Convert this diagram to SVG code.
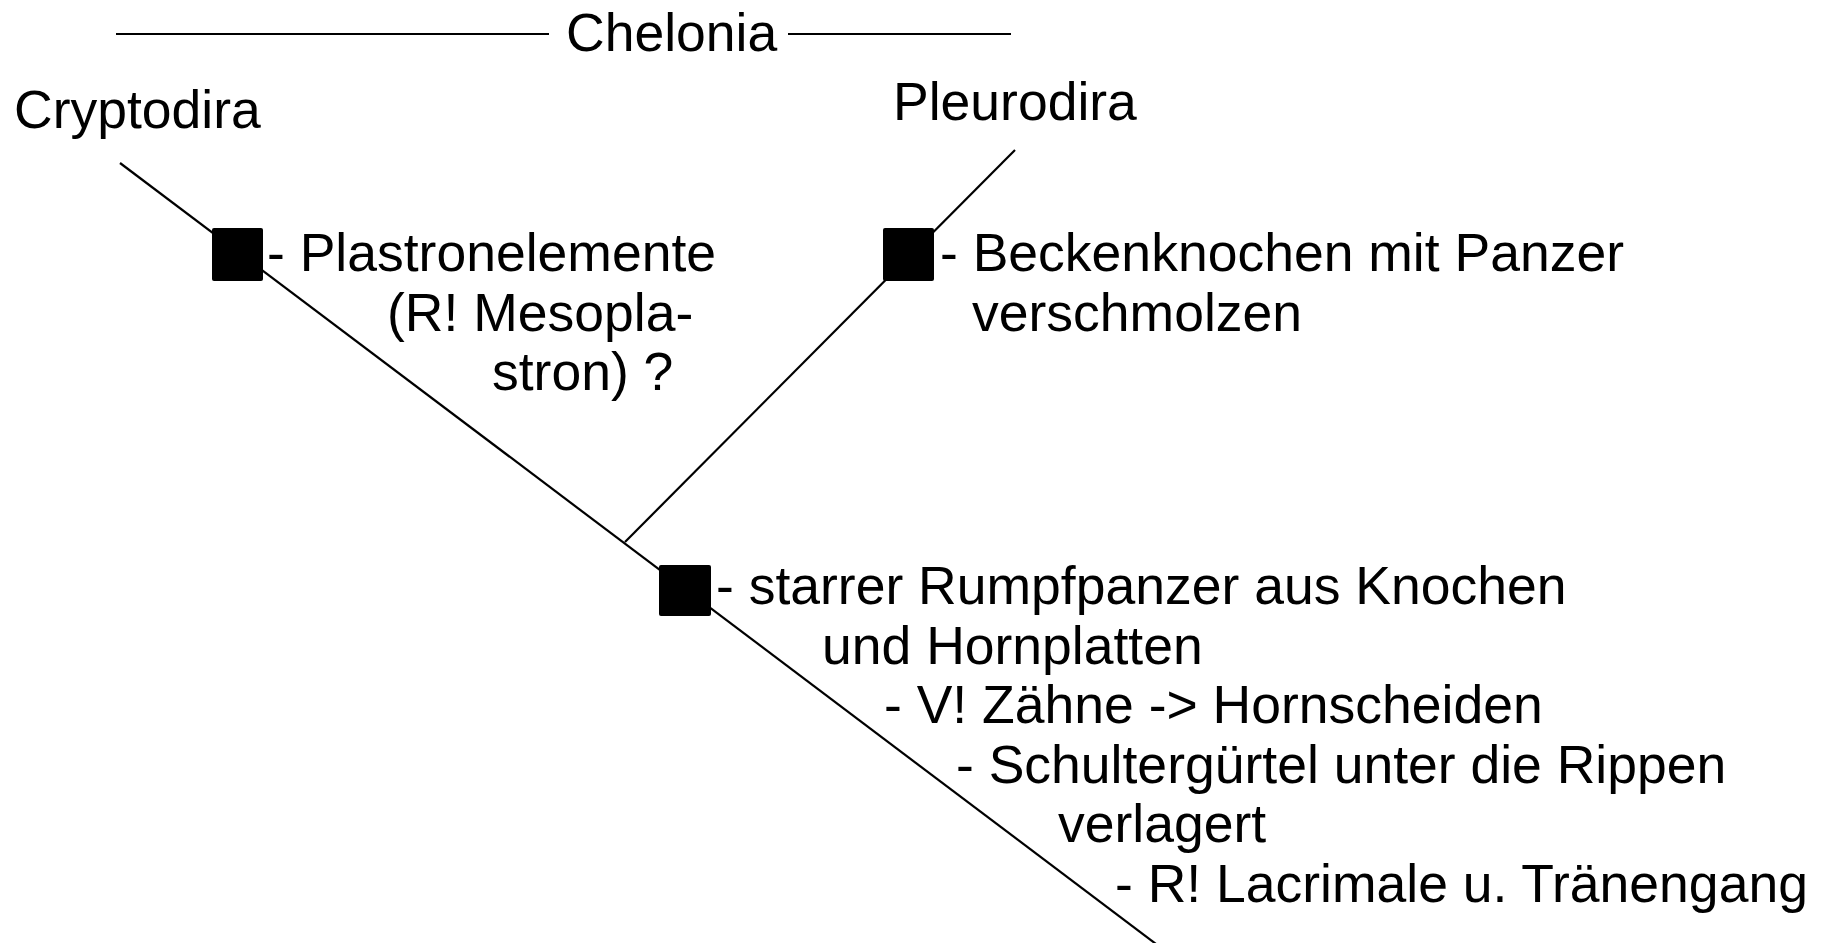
<svg xmlns="http://www.w3.org/2000/svg" width="1823" height="943" viewBox="0 0 1823 943">
  <style>
    text { font-family: "Liberation Sans", Arial, sans-serif; font-size: 53.5px; fill: #000; }
    .edge { stroke: #000; stroke-width: 2.2; fill: none; stroke-linecap: butt; }
    .mark { fill: #000; }
  </style>
  <rect width="1823" height="943" fill="#fff"/>

  <!-- clade bracket -->
  <g id="chelonia">
    <line class="edge" x1="116" y1="34" x2="549" y2="34"/>
    <text x="566" y="51">Chelonia</text>
    <line class="edge" x1="788" y1="34" x2="1011" y2="34"/>
  </g>

  <!-- branches -->
  <g id="connectors">
    <line class="edge" x1="120" y1="163" x2="1160" y2="947"/>
    <line class="edge" x1="1015" y1="150" x2="625" y2="542"/>
  </g>

  <g id="cryptodira">
    <text x="14" y="128">Cryptodira</text>
  </g>

  <g id="pleurodira">
    <text x="893" y="120">Pleurodira</text>
  </g>

  <g id="apo-cryptodira">
    <rect class="mark" x="212" y="228" width="51" height="53" rx="2"/>
    <text x="267" y="271">- Plastronelemente</text>
    <text x="387" y="330.5">(R! Mesopla-</text>
    <text x="492" y="390">stron) ?</text>
  </g>

  <g id="apo-pleurodira">
    <rect class="mark" x="883" y="228" width="51" height="53" rx="2"/>
    <text x="940" y="271">- Beckenknochen mit Panzer</text>
    <text x="972" y="330.5">verschmolzen</text>
  </g>

  <g id="apo-chelonia">
    <rect class="mark" x="659" y="565" width="52" height="51" rx="2"/>
    <text x="716" y="604">- starrer Rumpfpanzer aus Knochen</text>
    <text x="822" y="663.5">und Hornplatten</text>
    <text x="884" y="723">- V! Zähne -&gt; Hornscheiden</text>
    <text x="956" y="782.5">- Schultergürtel unter die Rippen</text>
    <text x="1058" y="842">verlagert</text>
    <text x="1115" y="901.5">- R! Lacrimale u. Tränengang</text>
  </g>
</svg>
